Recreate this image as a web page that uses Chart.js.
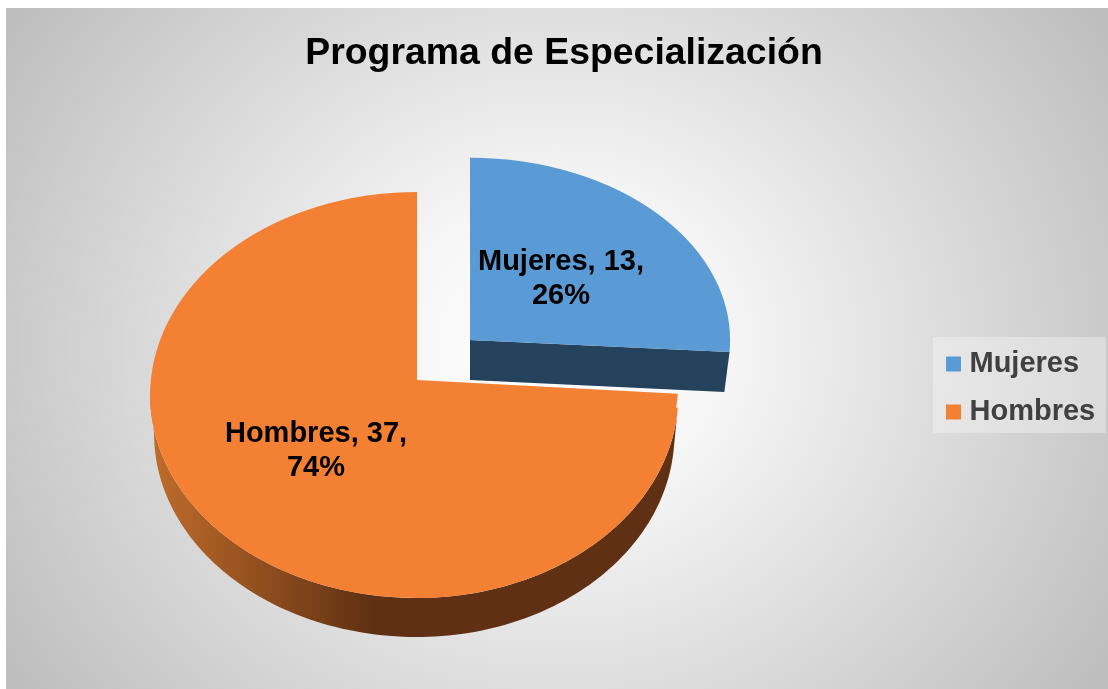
<!DOCTYPE html>
<html>
<head>
<meta charset="utf-8">
<style>html,body{margin:0;padding:0;background:#fff}#c{display:block}</style>
<script src="https://cdn.jsdelivr.net/npm/chart.js@4/dist/chart.umd.min.js"></script>
</head>
<body>
<div style="width:1108px;height:689px"><canvas id="c" width="1108" height="689"></canvas></div>
<script>
const categories = ['Mujeres', 'Hombres'];
const values = [13, 37];
const titleText = 'Programa de Especialización';
const sliceColors = ['#5b9bd5', '#f48033'];
const FONT = '"Liberation Sans", Arial, sans-serif';
const ALL = [[-1, -1], [1, -1], [-1, 1], [1, 1]];

// tilted-pie projection per slice: page anchor and radius scale per quadrant
const tilt = [
  {depth: 40, shrink: 0.98, passes: [
    {cx: 470, cy: 340, left: 1, right: 0.985, up: 0.69, down: 0.72, quads: ALL}
  ]},
  {depth: 39, shrink: 0.985, passes: [
    {cx: 417, cy: 380, left: 1.011, right: 0.99, up: 0.712, down: 0.826, quads: [[1, 1]]},
    {cx: 417, cy: 395, left: 1.011, right: 0.99, up: 0.769, down: 0.769, quads: ALL}
  ]}
];
const labelCenters = [[561, 262], [316, 434]];
const LINE = 34;

function rim(p, k, R, a, d) {
  const c = Math.cos(a), s = Math.sin(a);
  return [p.cx + R * c * (c >= 0 ? p.right : p.left) * k, p.cy + R * s * (s >= 0 ? p.down : p.up) + d];
}

function drawWalls(ctx, chart) {
  const meta = chart.getDatasetMeta(0);
  // first slice: flat cut face along its end angle
  {
    const el = meta.data[0], t = tilt[0], P = t.passes[0], R = el.outerRadius;
    const a = el.endAngle, p = rim(P, 1, R, a, 0), q = rim(P, t.shrink, R, a, t.depth);
    ctx.fillStyle = '#25425c';
    ctx.beginPath();
    ctx.moveTo(P.cx, P.cy); ctx.lineTo(p[0], p[1]); ctx.lineTo(q[0], q[1]); ctx.lineTo(P.cx, P.cy + t.depth);
    ctx.closePath(); ctx.fill();
  }
  // second slice: outer rim wall on the front half
  {
    const el = meta.data[1], t = tilt[1], P = t.passes[1], R = el.outerRadius;
    const a0 = el.startAngle, a1 = Math.PI;
    const g = ctx.createLinearGradient(150, 0, 680, 0);
    g.addColorStop(0, '#c06c2c');
    g.addColorStop(0.2, '#93501f');
    g.addColorStop(0.42, '#5f3013');
    g.addColorStop(1, '#5f3013');
    ctx.fillStyle = g;
    ctx.beginPath();
    const n = 120;
    for (let i = 0; i <= n; i++) { const p = rim(P, 1, R, a0 + (a1 - a0) * i / n, 0); i ? ctx.lineTo(p[0], p[1]) : ctx.moveTo(p[0], p[1]); }
    for (let i = n; i >= 0; i--) { const p = rim(P, t.shrink, R, a0 + (a1 - a0) * i / n, t.depth); ctx.lineTo(p[0], p[1]); }
    ctx.closePath(); ctx.fill();
  }
}

const tiltedPie = {
  id: 'tiltedPie',
  beforeDraw(chart) {
    const ctx = chart.ctx;
    ctx.save();
    ctx.fillStyle = '#fff';
    ctx.fillRect(0, 0, chart.width, chart.height);
    ctx.beginPath(); ctx.rect(6, 8, 1102, 681); ctx.clip();
    ctx.translate(556, 348); ctx.scale(1, 560 / 620);
    const g = ctx.createRadialGradient(0, 0, 0, 0, 0, 660);
    g.addColorStop(0, '#ffffff');
    g.addColorStop(0.25, '#f6f6f6');
    g.addColorStop(1, '#bdbdbd');
    ctx.fillStyle = g;
    ctx.fillRect(-700, -700, 1400, 1400);
    ctx.restore();
    // legend panel
    ctx.save();
    ctx.fillStyle = 'rgba(255,255,255,0.32)';
    ctx.fillRect(933, 337, 173, 96);
    ctx.restore();
  },
  afterLayout(chart) {
    const l = chart.legend;
    l.left = 933; l.right = 1106; l.top = 320; l.bottom = 456;
  },
  beforeDatasetDraw(chart) {
    const ctx = chart.ctx;
    const meta = chart.getDatasetMeta(0);
    drawWalls(ctx, chart);
    meta.data.forEach((el, i) => {
      tilt[i].passes.forEach(t => {
        t.quads.forEach(([hx, hy]) => {
          ctx.save();
          ctx.beginPath();
          const o = 0.5;
          ctx.rect(hx < 0 ? t.cx - 400 : t.cx - o, hy < 0 ? t.cy - 400 : t.cy - o, 400 + o, 400 + o);
          ctx.clip();
          ctx.translate(t.cx, t.cy);
          ctx.scale(hx < 0 ? t.left : t.right, hy < 0 ? t.up : t.down);
          ctx.translate(-el.x, -el.y);
          el.draw(ctx);
          ctx.restore();
        });
      });
    });
    return false;
  },
  afterDatasetsDraw(chart) {
    const ctx = chart.ctx;
    const total = values.reduce((a, b) => a + b, 0);
    ctx.save();
    ctx.font = 'bold 29px ' + FONT;
    ctx.fillStyle = '#000';
    ctx.textAlign = 'center';
    ctx.textBaseline = 'middle';
    categories.forEach((c, i) => {
      const [x, y] = labelCenters[i];
      ctx.fillText(c + ', ' + values[i] + ',', x, y);
      ctx.fillText(Math.round(values[i] / total * 100) + '%', x, y + LINE);
    });
    ctx.restore();
  }
};

new Chart(document.getElementById('c'), {
  type: 'pie',
  data: {
    labels: categories,
    datasets: [{data: values, backgroundColor: sliceColors, borderWidth: 0, radius: 264}]
  },
  plugins: [tiltedPie],
  options: {
    responsive: false,
    animation: false,
    layout: {padding: {left: 20, top: 12, right: 0, bottom: 0}},
    plugins: {
      tooltip: {enabled: false},
      title: {display: true, text: titleText, color: '#000', font: {family: FONT, size: 37.4, weight: 'bold'}, padding: {top: 19, bottom: 10}},
      legend: {
        position: 'right',
        labels: {
          usePointStyle: true, pointStyle: 'rect', boxWidth: 3, boxHeight: 15,
          color: '#404040', padding: 19,
          font: {family: FONT, size: 29, weight: 'bold'}
        }
      }
    }
  }
});
</script>
</body>
</html>
